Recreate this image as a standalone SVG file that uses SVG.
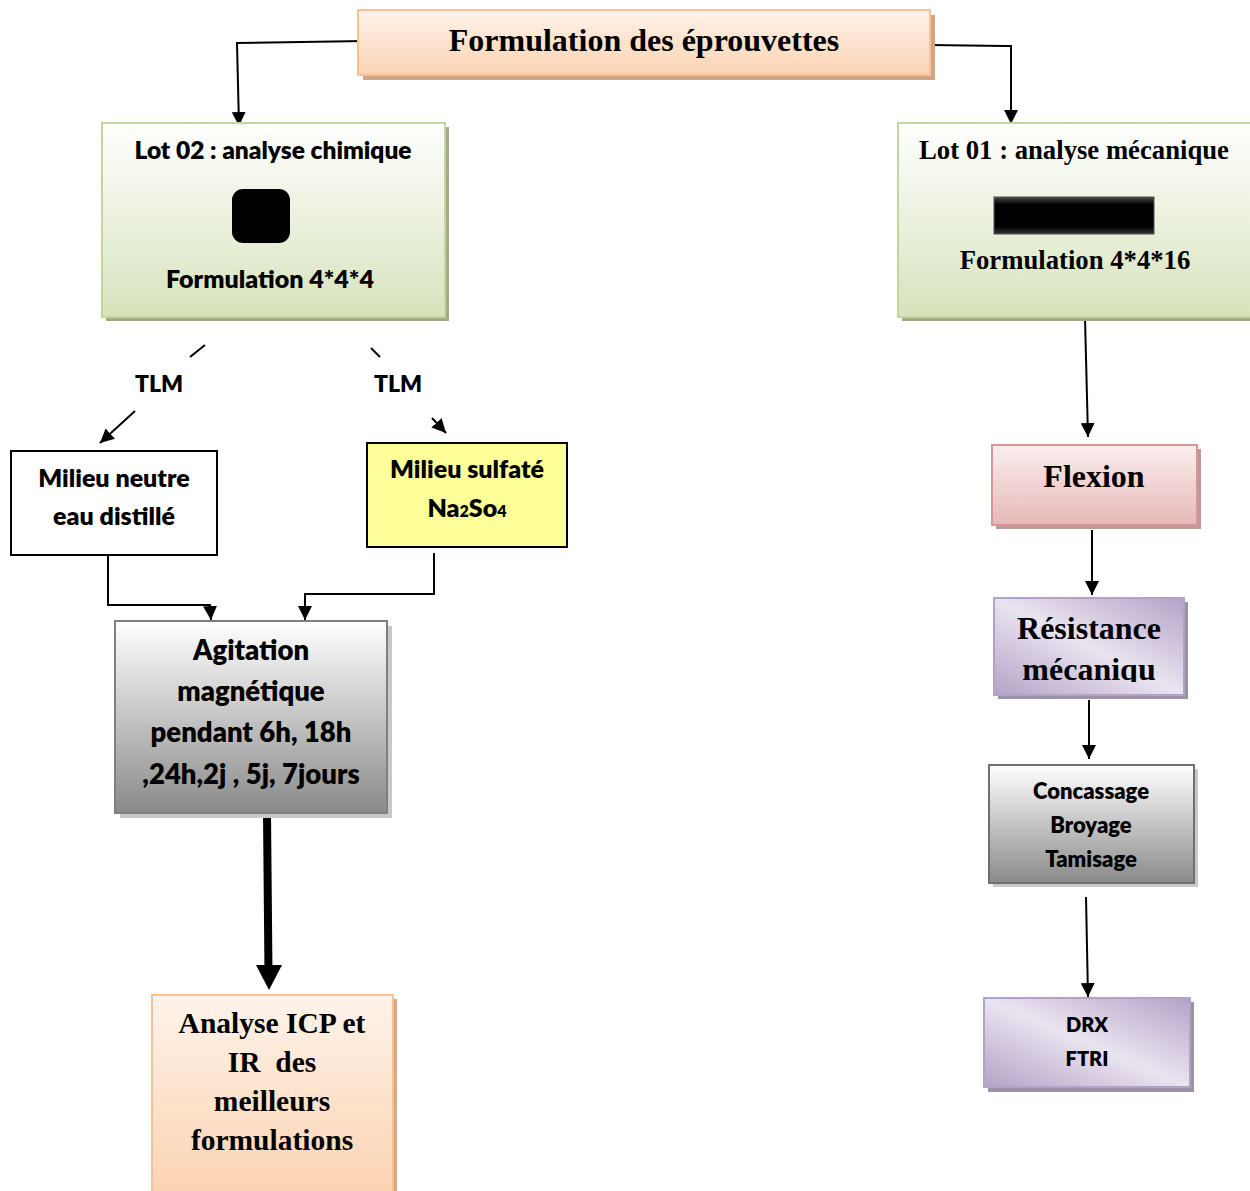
<svg xmlns="http://www.w3.org/2000/svg" width="1250" height="1191" viewBox="0 0 1250 1191">
<defs>
<linearGradient id="gPeach" x1="0" y1="0" x2="0" y2="1"><stop offset="0" stop-color="#fef3ea"/><stop offset="1" stop-color="#fbd3b2"/></linearGradient>
<linearGradient id="gGreen" x1="0" y1="0" x2="0" y2="1"><stop offset="0" stop-color="#ffffff"/><stop offset="1" stop-color="#d7e3bc"/></linearGradient>
<linearGradient id="gGray" x1="0" y1="0" x2="0" y2="1"><stop offset="0" stop-color="#ffffff"/><stop offset="1" stop-color="#8a8a8a"/></linearGradient>
<linearGradient id="gRed" x1="0" y1="0" x2="0" y2="1"><stop offset="0" stop-color="#fbeeee"/><stop offset="1" stop-color="#e6b8b7"/></linearGradient>
<linearGradient id="gPurple" x1="1" y1="0" x2="0" y2="1"><stop offset="0" stop-color="#b3a2c7"/><stop offset="0.5" stop-color="#eae4f0"/><stop offset="1" stop-color="#b3a2c7"/></linearGradient>
<linearGradient id="gBar" x1="0" y1="0" x2="0" y2="1"><stop offset="0" stop-color="#4a4a4a"/><stop offset="0.2" stop-color="#000"/><stop offset="0.8" stop-color="#000"/><stop offset="1" stop-color="#333"/></linearGradient>
<marker id="ahs" viewBox="0 0 10 10" refX="10" refY="5" markerWidth="14" markerHeight="14" markerUnits="userSpaceOnUse" orient="auto"><path d="M0,0 L10,5 L0,10 z" fill="#000"/></marker>
</defs>
<style>
.sans{font-family:Lato,"Open Sans","Liberation Sans",sans-serif;font-weight:800;fill:#000;text-anchor:middle}
.serif{font-family:"Liberation Serif","Times New Roman",serif;font-weight:bold;fill:#000;text-anchor:middle}
.c{fill:none;stroke:#000;stroke-width:2}
</style>

<g id="connectors">
<polyline class="c" points="365,41 237,43 239,126" marker-end="url(#ahs)"/>
<polyline class="c" points="930,45 1005,46 1011,46 1011,124" marker-end="url(#ahs)"/>
<line class="c" x1="205" y1="345" x2="190" y2="357"/>
<line class="c" x1="135" y1="411" x2="100" y2="443" marker-end="url(#ahs)"/>
<line class="c" x1="371" y1="348" x2="380" y2="357"/>
<line class="c" x1="432" y1="418" x2="446" y2="433" marker-end="url(#ahs)"/>
<polyline class="c" points="108,556 108,605 210,605 211,620" marker-end="url(#ahs)"/>
<polyline class="c" points="434,553 434,594 305,594 305,620" marker-end="url(#ahs)"/>
<line x1="267" y1="813" x2="268.5" y2="975" stroke="#000" stroke-width="8"/>
<path d="M256,965 L282,965 L269,990 z" fill="#000"/>
<line class="c" x1="1085" y1="318" x2="1088" y2="437" marker-end="url(#ahs)"/>
<line class="c" x1="1092" y1="530" x2="1092" y2="595" marker-end="url(#ahs)"/>
<line class="c" x1="1089" y1="700" x2="1089" y2="759" marker-end="url(#ahs)"/>
<line class="c" x1="1086" y1="897" x2="1088" y2="997" marker-end="url(#ahs)"/>
</g>

<g id="n-top">
<rect x="363" y="15" width="572" height="65" fill="#cfa586"/>
<rect x="358" y="10" width="572" height="65" fill="url(#gPeach)" stroke="#fac090" stroke-width="2"/>
<text class="serif" x="644" y="51" font-size="32">Formulation des éprouvettes</text>
</g>

<g id="n-lot02">
<rect x="106" y="127" width="343" height="194" fill="#a3ab8d"/>
<rect x="102" y="123" width="343" height="194" fill="url(#gGreen)" stroke="#c3d69b" stroke-width="2"/>
<text class="sans" x="273" y="159" font-size="24.5">Lot 02 : analyse chimique</text>
<rect x="232" y="189" width="58" height="54" rx="11" fill="#000"/>
<text class="sans" x="270" y="288" font-size="25">Formulation 4*4*4</text>
</g>

<g id="n-lot01">
<rect x="902" y="127" width="352" height="194" fill="#a3ab8d"/>
<rect x="898" y="123" width="360" height="194" fill="url(#gGreen)" stroke="#c3d69b" stroke-width="2"/>
<text class="serif" x="1074" y="159" font-size="26.7">Lot 01 : analyse mécanique</text>
<rect x="994" y="197" width="160" height="37" fill="url(#gBar)" stroke="#555" stroke-width="1"/>
<text class="serif" x="1075" y="269" font-size="26.7">Formulation 4*4*16</text>
</g>

<g id="l-tlm1"><text class="sans" x="159" y="392" font-size="23">TLM</text></g>
<g id="l-tlm2"><text class="sans" x="398" y="392" font-size="23">TLM</text></g>

<g id="n-neutre">
<rect x="11" y="451" width="206" height="104" fill="#fff" stroke="#000" stroke-width="2"/>
<text class="sans" x="114" y="487" font-size="25">Milieu neutre</text>
<text class="sans" x="114" y="525" font-size="25">eau distillé</text>
</g>

<g id="n-sulfate">
<rect x="367" y="443" width="200" height="104" fill="#ffff99" stroke="#000" stroke-width="2"/>
<text class="sans" x="467" y="478" font-size="25">Milieu sulfaté</text>
<text class="sans" x="467" y="517" font-size="25">Na<tspan font-size="16">2</tspan>So<tspan font-size="16">4</tspan></text>
</g>

<g id="n-agitation">
<rect x="120" y="626" width="272" height="192" fill="#c8c8c8"/>
<rect x="115" y="621" width="272" height="192" fill="url(#gGray)" stroke="#7f7f7f" stroke-width="2"/>
<text class="sans" x="251" y="660" font-size="27.5">Agitation</text>
<text class="sans" x="251" y="701" font-size="27.5">magnétique</text>
<text class="sans" x="251" y="742" font-size="27.5">pendant 6h, 18h</text>
<text class="sans" x="251" y="784" font-size="27.5">,24h,2j , 5j, 7jours</text>
</g>

<g id="n-analyse">
<rect x="156" y="999" width="241" height="200" fill="#d9aa88"/>
<rect x="152" y="995" width="241" height="200" fill="url(#gPeach)" stroke="#fac090" stroke-width="2"/>
<text class="serif" x="272" y="1033" font-size="29.5">Analyse ICP et</text>
<text class="serif" x="272" y="1072" font-size="29.5" xml:space="preserve">IR  des</text>
<text class="serif" x="272" y="1111" font-size="29.5">meilleurs</text>
<text class="serif" x="272" y="1150" font-size="29.5">formulations</text>
</g>

<g id="n-flexion">
<rect x="996" y="449" width="205" height="80" fill="#b89a9a"/>
<rect x="992" y="445" width="205" height="80" fill="url(#gRed)" stroke="#d99694" stroke-width="2"/>
<text class="serif" x="1094" y="487" font-size="32">Flexion</text>
</g>

<g id="n-resistance">
<rect x="998" y="602" width="190" height="97" fill="#9b92a6"/>
<rect x="994" y="598" width="190" height="97" fill="url(#gPurple)" stroke="#b3a2c7" stroke-width="2"/>
<svg x="994" y="598" width="190" height="84" overflow="hidden">
<text class="serif" x="95" y="41" font-size="32">Résistance</text>
<text class="serif" x="95" y="82" font-size="32">mécaniqu</text>
</svg>
</g>

<g id="n-concassage">
<rect x="993" y="769" width="205" height="118" fill="#c8c8c8"/>
<rect x="989" y="765" width="205" height="118" fill="url(#gGray)" stroke="#6f6f6f" stroke-width="2"/>
<text class="sans" x="1091" y="799" font-size="22">Concassage</text>
<text class="sans" x="1091" y="833" font-size="22">Broyage</text>
<text class="sans" x="1091" y="867" font-size="22">Tamisage</text>
</g>

<g id="n-drx">
<rect x="988" y="1002" width="206" height="90" fill="#9b92a6"/>
<rect x="984" y="998" width="206" height="89" fill="url(#gPurple)" stroke="#b3a2c7" stroke-width="2"/>
<text class="sans" x="1087" y="1032" font-size="20">DRX</text>
<text class="sans" x="1087" y="1066" font-size="20">FTRI</text>
</g>
</svg>
